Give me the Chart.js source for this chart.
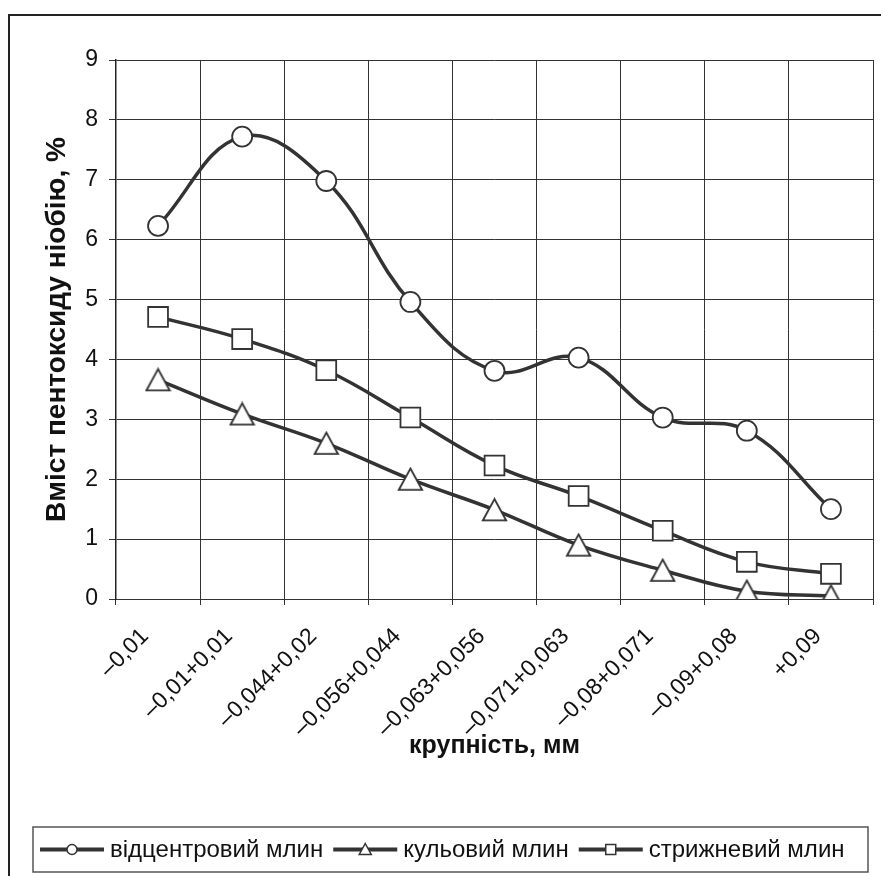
<!DOCTYPE html>
<html>
<head>
<meta charset="utf-8">
<script src="https://cdn.jsdelivr.net/npm/chart.js@4"></script>
<style>
  body { margin: 0; background: #fff; }
  canvas { display: block; }
</style>
</head>
<body>
<canvas id="line-chart" width="881" height="876"></canvas>
<script>
// DATA
var categories = ['–0,01', '–0,01+0,01', '–0,044+0,02', '–0,056+0,044', '–0,063+0,056',
  '–0,071+0,063', '–0,08+0,071', '–0,09+0,08', '+0,09']
var centrifugalMill = [6.23, 7.72, 6.98, 4.96, 3.81, 4.03, 3.03, 2.81, 1.50]
var ballMill = [3.66, 3.09, 2.60, 2.00, 1.49, 0.90, 0.48, 0.13, 0.05]
var rodMill = [4.71, 4.34, 3.82, 3.03, 2.23, 1.72, 1.14, 0.62, 0.42]
var yTicks = [0, 1, 2, 3, 4, 5, 6, 7, 8, 9]
var seriesLabels = ['відцентровий млин', 'кульовий млин', 'стрижневий млин']

var lineColor = '#333'
var fontFamily = "'Liberation Sans', Arial, sans-serif"

// triangle marker centred on its box, like excel does
function makeTriangle(w, h, lw) {
  var c = document.createElement('canvas')
  c.width = w
  c.height = h
  var ctx = c.getContext('2d')
  ctx.beginPath()
  ctx.moveTo(w / 2, lw)
  ctx.lineTo(w - lw, h - lw)
  ctx.lineTo(lw, h - lw)
  ctx.closePath()
  ctx.fillStyle = '#fff'
  ctx.fill()
  ctx.lineWidth = lw
  ctx.strokeStyle = lineColor
  ctx.stroke()
  return c
}

var triangle = makeTriangle(27, 25, 1.8)

// frame + legend box
var frameAndLegend = {
  id: 'frameAndLegend',
  afterDraw: function(chart) {
    var ctx = chart.ctx
    ctx.save()

    ctx.strokeStyle = '#222'
    ctx.lineWidth = 2
    ctx.strokeRect(9, 15, 900, 900)

    // legend
    var top = 827, bottom = 872, left = 33, right = 868
    ctx.strokeStyle = '#555'
    ctx.lineWidth = 1.5
    ctx.strokeRect(left, top, right - left, bottom - top)

    var cy = (top + bottom) / 2
    var x = 40
    ctx.font = '24px ' + fontFamily
    ctx.textBaseline = 'middle'
    ctx.textAlign = 'left'

    chart.data.datasets.forEach(function(ds, i) {
      ctx.strokeStyle = lineColor
      ctx.lineWidth = 4
      ctx.beginPath()
      ctx.moveTo(x, cy)
      ctx.lineTo(x + 64, cy)
      ctx.stroke()

      var mx = x + 32
      ctx.fillStyle = '#fff'
      ctx.lineWidth = 1.5
      ctx.beginPath()
      if (i == 0) {
        ctx.arc(mx, cy, 5, 0, Math.PI * 2)
      } else if (i == 1) {
        ctx.moveTo(mx, cy - 6)
        ctx.lineTo(mx + 6, cy + 5)
        ctx.lineTo(mx - 6, cy + 5)
        ctx.closePath()
      } else {
        ctx.rect(mx - 5, cy - 5, 10, 10)
      }
      ctx.fill()
      ctx.stroke()

      ctx.fillStyle = '#111'
      ctx.fillText(ds.label, x + 70, cy + 1)
      x += 70 + ctx.measureText(ds.label).width + 10
    })

    ctx.restore()
  }
}

var lineChart = new Chart(document.getElementById('line-chart'), {
  type: 'line',
  data: {
    labels: categories,
    datasets: [
      {
        label: seriesLabels[0],
        data: centrifugalMill,
        borderColor: lineColor,
        borderWidth: 3.5,
        pointStyle: 'circle',
        pointRadius: 10,
        pointBorderWidth: 1.8,
        pointBackgroundColor: '#fff',
        pointBorderColor: lineColor,
        tension: 0.4
      }, {
        label: seriesLabels[1],
        data: ballMill,
        borderColor: lineColor,
        borderWidth: 3.5,
        pointStyle: triangle,
        pointRadius: 12,
        tension: 0.4
      }, {
        label: seriesLabels[2],
        data: rodMill,
        borderColor: lineColor,
        borderWidth: 3.5,
        pointStyle: 'rect',
        pointRadius: 14,
        pointBorderWidth: 1.8,
        pointBackgroundColor: '#fff',
        pointBorderColor: lineColor,
        tension: 0.4
      }
    ]
  },
  options: {
    responsive: false,
    animation: false,
    devicePixelRatio: 1,
    layout: {
      autoPadding: false,
      padding: { left: 0, top: 60, right: 8, bottom: 100 }
    },
    plugins: {
      legend: { display: false },
      title: { display: false },
      tooltip: { enabled: false }
    },
    scales: {
      x: {
        offset: true,
        grid: {
          offset: true,
          color: '#333',
          lineWidth: 1,
          tickLength: 6
        },
        border: { color: '#333', width: 1 },
        ticks: {
          autoSkip: false,
          maxRotation: 45,
          minRotation: 45,
          padding: 18,
          labelOffset: -13,
          color: '#111',
          font: { family: fontFamily, size: 23 }
        },
        title: {
          display: true,
          text: 'крупність, мм',
          color: '#111',
          padding: { top: 0, bottom: 15 },
          font: { family: fontFamily, size: 25, weight: 'bold' }
        },
        afterFit: function(scale) {
          scale.height = 177
          scale.paddingRight = 0
        }
      },
      y: {
        min: 0,
        max: 9,
        afterBuildTicks: function(scale) {
          scale.ticks = yTicks.map(v => ({ value: v }))
        },
        grid: {
          color: '#333',
          lineWidth: 1,
          tickLength: 7
        },
        border: { color: '#222', width: 1.5 },
        ticks: {
          padding: 11,
          color: '#111',
          font: { family: fontFamily, size: 23 }
        },
        title: {
          display: true,
          text: 'Вміст пентоксиду ніобію, %',
          color: '#111',
          padding: { top: 40, bottom: 0 },
          font: { family: fontFamily, size: 28, weight: 'bold' }
        },
        afterFit: function(scale) {
          scale.width = 116
        }
      }
    }
  },
  plugins: [frameAndLegend]
});
</script>
</body>
</html>
